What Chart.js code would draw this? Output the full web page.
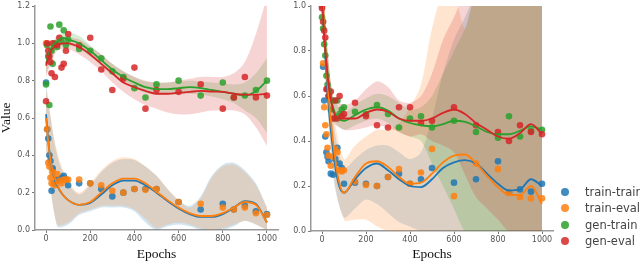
<!DOCTYPE html>
<html>
<head>
<meta charset="utf-8">
<script src="https://cdn.jsdelivr.net/npm/chart.js@4.4.1/dist/chart.umd.min.js"></script>
<style>
  body { margin: 0; background: #fff; width: 640px; height: 263px; overflow: hidden; position: relative; }
  canvas { position: absolute; top: 0; }
  #left { left: 0; }
  #right { left: 282px; }
  .legend { position: absolute; left: 561px; top: 184px; font-family: "DejaVu Sans", sans-serif; font-size: 11.5px; color: #444; }
  .legend div { height: 16.3px; line-height: 16px; white-space: nowrap; position: relative; padding-left: 24px; }
  .legend span { position: absolute; left: 0; top: 4px; width: 8px; height: 8px; border-radius: 50%; }
</style>
</head>
<body>
<canvas id="left" width="282" height="263"></canvas>
<canvas id="right" width="358" height="263"></canvas>
<div class="legend" id="legend"></div>
<script>
// series names and colours (tab10)
const seriesNames = ['train-train', 'train-eval', 'gen-train', 'gen-eval'];
const seriesColors = [[31, 119, 180], [255, 127, 14], [44, 160, 44], [214, 39, 40]];

const xTicks = [0, 200, 400, 600, 800, 1000];
const yTicksLeft = [0, 0.2, 0.4, 0.6, 0.8, 1.0, 1.2];
const yTicksRight = [0, 0.2, 0.4, 0.6, 0.8, 1.0];

// epochs at which points were recorded
const ptEpochs = [0, 5, 10, 15, 20, 25, 30, 40, 50, 60, 70, 80, 90, 100, 150, 200, 250, 300, 350, 400, 450, 500, 600, 700, 800, 850, 900, 950, 1000];

// left panel points
const leftTrainTrain = [0.79, 0.54, 0.49, 0.40, 0.37, 0.21, 0.33, 0.25, 0.27, 0.27, 0.28, 0.29, 0.27, 0.24, 0.25, 0.25, 0.22, 0.18, 0.20, 0.22, 0.22, 0.22, 0.15, 0.11, 0.14, 0.11, 0.13, 0.10, 0.085];
const leftTrainEval = [1.00, 0.54, 0.36, 0.34, 0.28, 0.25, 0.31, 0.24, 0.30, 0.265, 0.25, 0.27, 0.27, 0.27, 0.27, 0.25, 0.24, 0.21, 0.20, 0.22, 0.215, 0.22, 0.15, 0.14, 0.12, 0.11, 0.12, 0.09, 0.08];
const leftGenTrain = [0.78, 0.99, 0.93, 0.67, 1.09, 0.96, 0.89, 1.00, 0.98, 1.10, 1.01, 1.07, 0.99, 1.02, 0.97, 0.96, 0.92, 0.85, 0.82, 0.76, 0.71, 0.78, 0.80, 0.72, 0.79, 0.71, 0.72, 0.75, 0.80];
const leftGenEval = [0.69, 1.00, 0.96, 0.93, 0.90, 0.84, 1.00, 0.82, 0.99, 1.03, 0.87, 0.89, 0.96, 1.05, 0.99, 1.03, 0.86, 0.75, 0.81, 0.87, 0.65, 0.75, 0.74, 0.78, 0.65, 0.71, 0.82, 0.71, 0.72];

// right panel points
const rightTrainTrain = [1.00, 0.73, 0.58, 0.42, 0.35, 0.33, 0.31, 0.255, 0.25, 0.32, 0.37, 0.30, 0.28, 0.21, 0.215, 0.21, 0.20, 0.24, 0.255, 0.21, 0.23, 0.28, 0.215, 0.23, 0.31, 0.17, 0.185, 0.175, 0.21];
const rightTrainEval = [1.00, 0.745, 0.55, 0.47, 0.43, 0.37, 0.335, 0.29, 0.33, 0.365, 0.35, 0.27, 0.265, 0.27, 0.22, 0.205, 0.20, 0.24, 0.275, 0.21, 0.26, 0.365, 0.155, 0.30, 0.275, 0.17, 0.15, 0.145, 0.145];
const rightGenTrain = [0.95, 0.90, 0.83, 0.78, 0.69, 0.65, 0.60, 0.54, 0.58, 0.50, 0.58, 0.52, 0.54, 0.55, 0.53, 0.52, 0.56, 0.52, 0.46, 0.50, 0.51, 0.46, 0.49, 0.44, 0.415, 0.51, 0.42, 0.445, 0.45];
const rightGenEval = [0.99, 0.93, 0.89, 0.86, 0.63, 0.63, 0.60, 0.62, 0.50, 0.58, 0.50, 0.60, 0.51, 0.52, 0.57, 0.51, 0.47, 0.46, 0.55, 0.55, 0.48, 0.49, 0.55, 0.47, 0.44, 0.40, 0.47, 0.44, 0.43];

// fitted curves, read at these epochs
const curveEpochs = [0, 10, 25, 50, 75, 100, 150, 200, 250, 300, 350, 400, 450, 500, 550, 600, 650, 700, 750, 800, 850, 900, 950, 1000];
const leftFitTrainTrain = [0.62, 0.48, 0.34, 0.24, 0.19, 0.16, 0.135, 0.145, 0.19, 0.24, 0.265, 0.265, 0.24, 0.20, 0.155, 0.115, 0.085, 0.07, 0.07, 0.085, 0.12, 0.155, 0.14, 0.04];
const leftFitTrainEval = [0.60, 0.47, 0.34, 0.245, 0.19, 0.16, 0.135, 0.15, 0.20, 0.25, 0.275, 0.275, 0.25, 0.205, 0.16, 0.12, 0.09, 0.075, 0.075, 0.09, 0.12, 0.15, 0.135, 0.04];
const leftFitGenTrain = [0.89, 0.93, 0.98, 1.01, 1.03, 1.02, 1.00, 0.96, 0.91, 0.86, 0.82, 0.79, 0.765, 0.755, 0.755, 0.76, 0.765, 0.76, 0.75, 0.74, 0.73, 0.72, 0.745, 0.80];
const leftFitGenEval = [0.88, 0.92, 0.965, 0.99, 1.0, 1.0, 0.98, 0.94, 0.89, 0.84, 0.79, 0.765, 0.745, 0.73, 0.73, 0.735, 0.74, 0.745, 0.742, 0.74, 0.73, 0.725, 0.725, 0.73];
const rightFitTrainTrain = [1.05, 0.87, 0.62, 0.36, 0.21, 0.17, 0.23, 0.28, 0.30, 0.27, 0.23, 0.20, 0.195, 0.23, 0.28, 0.305, 0.315, 0.30, 0.255, 0.21, 0.18, 0.185, 0.23, 0.20];
const rightFitTrainEval = [1.08, 0.90, 0.66, 0.40, 0.23, 0.17, 0.24, 0.30, 0.31, 0.285, 0.24, 0.21, 0.215, 0.255, 0.305, 0.335, 0.34, 0.30, 0.245, 0.195, 0.16, 0.16, 0.20, 0.12];
const rightFitGenTrain = [1.02, 0.87, 0.70, 0.55, 0.50, 0.49, 0.515, 0.54, 0.55, 0.535, 0.50, 0.48, 0.47, 0.465, 0.475, 0.49, 0.485, 0.465, 0.44, 0.43, 0.43, 0.445, 0.465, 0.45];
const rightFitGenEval = [1.02, 0.87, 0.69, 0.54, 0.50, 0.50, 0.50, 0.525, 0.54, 0.53, 0.50, 0.49, 0.49, 0.50, 0.525, 0.54, 0.52, 0.48, 0.45, 0.42, 0.41, 0.435, 0.475, 0.43];

// confidence bands (lower / upper), read at these epochs
const bandEpochs = [0, 50, 100, 150, 200, 250, 300, 350, 400, 450, 500, 550, 600, 650, 700, 750, 800, 850, 900, 950, 1000];
const leftLoTrainTrain = [0.45, 0.02, 0.03, 0.08, 0.10, 0.12, 0.12, 0.12, 0.10, 0.04, 0.0, 0.02, 0.03, 0.02, 0.0, 0.0, 0.0, 0.02, 0.05, 0.03, 0.0];
const leftHiTrainTrain = [0.78, 0.40, 0.25, 0.19, 0.24, 0.31, 0.36, 0.38, 0.375, 0.34, 0.29, 0.22, 0.16, 0.13, 0.18, 0.29, 0.35, 0.36, 0.32, 0.25, 0.12];
const leftLoTrainEval = [0.42, 0.03, 0.04, 0.09, 0.11, 0.13, 0.13, 0.13, 0.11, 0.06, 0.01, 0.03, 0.04, 0.03, 0.01, 0.0, 0.01, 0.03, 0.05, 0.03, 0.0];
const leftHiTrainEval = [0.75, 0.42, 0.26, 0.20, 0.25, 0.32, 0.37, 0.39, 0.38, 0.34, 0.29, 0.22, 0.16, 0.12, 0.17, 0.28, 0.34, 0.35, 0.31, 0.24, 0.12];
const leftLoGenTrain = [0.84, 0.98, 0.99, 0.97, 0.93, 0.88, 0.83, 0.79, 0.76, 0.735, 0.725, 0.725, 0.725, 0.73, 0.725, 0.715, 0.70, 0.68, 0.64, 0.60, 0.52];
const leftHiGenTrain = [0.94, 1.04, 1.06, 1.04, 0.99, 0.94, 0.89, 0.85, 0.82, 0.795, 0.79, 0.79, 0.795, 0.80, 0.795, 0.79, 0.785, 0.78, 0.79, 0.84, 0.92];
const leftLoGenEval = [0.82, 0.96, 0.97, 0.94, 0.90, 0.85, 0.79, 0.74, 0.70, 0.67, 0.65, 0.63, 0.62, 0.62, 0.63, 0.64, 0.64, 0.64, 0.62, 0.55, 0.45];
const leftHiGenEval = [0.94, 1.02, 1.03, 1.02, 0.98, 0.94, 0.89, 0.85, 0.82, 0.80, 0.79, 0.79, 0.80, 0.81, 0.82, 0.82, 0.82, 0.84, 0.90, 1.05, 1.25];
const rightLoTrainTrain = [0.95, 0.25, 0.06, 0.10, 0.14, 0.12, 0.08, 0.04, 0.02, 0.0, 0.0, 0.0, 0.0, 0.0, 0.0, 0.0, 0.0, 0.0, 0.0, 0.0, 0.0];
const rightHiTrainTrain = [1.15, 0.50, 0.28, 0.32, 0.36, 0.38, 0.38, 0.35, 0.32, 0.35, 0.50, 0.70, 0.85, 0.95, 1.05, 1.05, 1.05, 1.05, 1.05, 1.05, 1.05];
const rightLoTrainEval = [0.95, 0.28, 0.05, 0.05, 0.05, 0.02, 0.0, 0.0, 0.0, 0.0, 0.0, 0.0, 0.0, 0.0, 0.0, 0.0, 0.0, 0.0, 0.0, 0.0, 0.0];
const rightHiTrainEval = [1.15, 0.55, 0.32, 0.38, 0.42, 0.45, 0.45, 0.48, 0.55, 0.65, 0.90, 1.05, 1.05, 0.90, 1.05, 1.05, 1.05, 1.05, 1.05, 1.05, 1.05];
const rightLoGenTrain = [0.95, 0.50, 0.45, 0.47, 0.49, 0.50, 0.48, 0.44, 0.42, 0.40, 0.30, 0.20, 0.10, 0.0, 0.0, 0.0, 0.0, 0.0, 0.0, 0.0, 0.0];
const rightHiGenTrain = [1.10, 0.60, 0.53, 0.56, 0.59, 0.61, 0.60, 0.57, 0.54, 0.55, 0.60, 0.70, 0.80, 0.90, 1.05, 1.05, 1.05, 1.05, 1.05, 1.05, 1.05];
const rightLoGenEval = [0.95, 0.49, 0.45, 0.45, 0.46, 0.47, 0.46, 0.44, 0.42, 0.43, 0.40, 0.38, 0.35, 0.25, 0.15, 0.10, 0.05, 0.0, 0.0, 0.0, 0.0];
const rightHiGenEval = [1.10, 0.60, 0.56, 0.58, 0.63, 0.665, 0.64, 0.58, 0.57, 0.60, 0.70, 0.85, 0.95, 1.05, 1.05, 1.05, 1.05, 1.05, 1.05, 1.05, 1.05];

const rgba = (c, a) => `rgba(${c[0]},${c[1]},${c[2]},${a})`;
const toXY = (xs, ys) => xs.map((x, i) => ({ x: x, y: ys[i] }));

function buildDatasets(points, fits, los, his) {
    const sets = [];
    for (let i = 0; i < 4; i++) {
        const c = seriesColors[i];
        sets.push({
            type: 'line', data: toXY(bandEpochs, los[i]), order: 100 - i,
            borderColor: 'transparent', borderWidth: 0, pointRadius: 0, fill: false, tension: 0.3
        });
        sets.push({
            type: 'line', data: toXY(bandEpochs, his[i]), order: 100 - i,
            borderColor: 'transparent', borderWidth: 0, pointRadius: 0, fill: '-1', tension: 0.3,
            backgroundColor: rgba(c, 0.2)
        });
    }
    for (let i = 0; i < 4; i++) {
        const c = seriesColors[i];
        sets.push({
            type: 'scatter', label: seriesNames[i], data: toXY(ptEpochs, points[i]), order: 50 - i,
            backgroundColor: rgba(c, 0.85), borderWidth: 0, pointRadius: 3.3
        });
        sets.push({
            type: 'line', data: toXY(curveEpochs, fits[i]), order: 10 - i,
            borderColor: rgba(c, 1), borderWidth: 1.8, pointRadius: 0, fill: false,
            cubicInterpolationMode: 'monotone'
        });
    }
    return sets;
}

const tickFont = { family: 'DejaVu Sans', size: 8, lineHeight: 1 };
const titleFont = { family: 'Liberation Serif', size: 13.5 };

function makeOptions(yTicks, yMax, yWidth, xHeight, padRight, yTitle) {
    return {
        responsive: false,
        animation: false,
        devicePixelRatio: 1,
        layout: { padding: { top: 4, right: padRight, bottom: 0, left: 0 } },
        plugins: { legend: { display: false }, tooltip: { enabled: false } },
        scales: {
            x: {
                type: 'linear', min: -50, max: 1050,
                afterBuildTicks: s => { s.ticks = xTicks.map(v => ({ value: v })); },
                afterFit: s => { s.height = xHeight; },
                ticks: { font: tickFont, color: '#555', padding: 2, maxRotation: 0, callback: v => String(v) },
                grid: { drawOnChartArea: false, tickLength: 3, tickColor: '#777' },
                border: { color: '#999', width: 1.5 },
                title: { display: true, text: 'Epochs', font: titleFont, color: '#111', padding: 0 }
            },
            y: {
                type: 'linear', min: 0, max: yMax,
                afterBuildTicks: s => { s.ticks = yTicks.map(v => ({ value: v })); },
                afterFit: s => { s.width = yWidth; },
                ticks: { font: tickFont, color: '#555', padding: 2, callback: v => v.toFixed(1) },
                grid: { drawOnChartArea: false, tickLength: 3, tickColor: '#777' },
                border: { color: '#999', width: 1.5 },
                title: {
                    display: !!yTitle, text: yTitle || '', color: '#111', padding: 0,
                    font: { family: 'Liberation Serif', size: 13.5, lineHeight: 1 }
                }
            }
        }
    };
}

new Chart(document.getElementById('left'), {
    type: 'scatter',
    data: {
        datasets: buildDatasets(
            [leftTrainTrain, leftTrainEval, leftGenTrain, leftGenEval],
            [leftFitTrainTrain, leftFitTrainEval, leftFitGenTrain, leftFitGenEval],
            [leftLoTrainTrain, leftLoTrainEval, leftLoGenTrain, leftLoGenEval],
            [leftHiTrainTrain, leftHiTrainEval, leftHiGenTrain, leftHiGenEval])
    },
    options: makeOptions(yTicksLeft, 1.2, 35, 33, 4, 'Value')
});

new Chart(document.getElementById('right'), {
    type: 'scatter',
    data: {
        datasets: buildDatasets(
            [rightTrainTrain, rightTrainEval, rightGenTrain, rightGenEval],
            [rightFitTrainTrain, rightFitTrainEval, rightFitGenTrain, rightFitGenEval],
            [rightLoTrainTrain, rightLoTrainEval, rightLoGenTrain, rightLoGenEval],
            [rightHiTrainTrain, rightHiTrainEval, rightHiGenTrain, rightHiGenEval])
    },
    options: makeOptions(yTicksRight, 1.0, 29, 32, 87, null)
});

// legend
const legend = document.getElementById('legend');
seriesNames.forEach((name, i) => {
    const row = document.createElement('div');
    const dot = document.createElement('span');
    dot.style.background = rgba(seriesColors[i], 0.85);
    row.appendChild(dot);
    row.appendChild(document.createTextNode(name));
    legend.appendChild(row);
});
</script>
</body>
</html>
